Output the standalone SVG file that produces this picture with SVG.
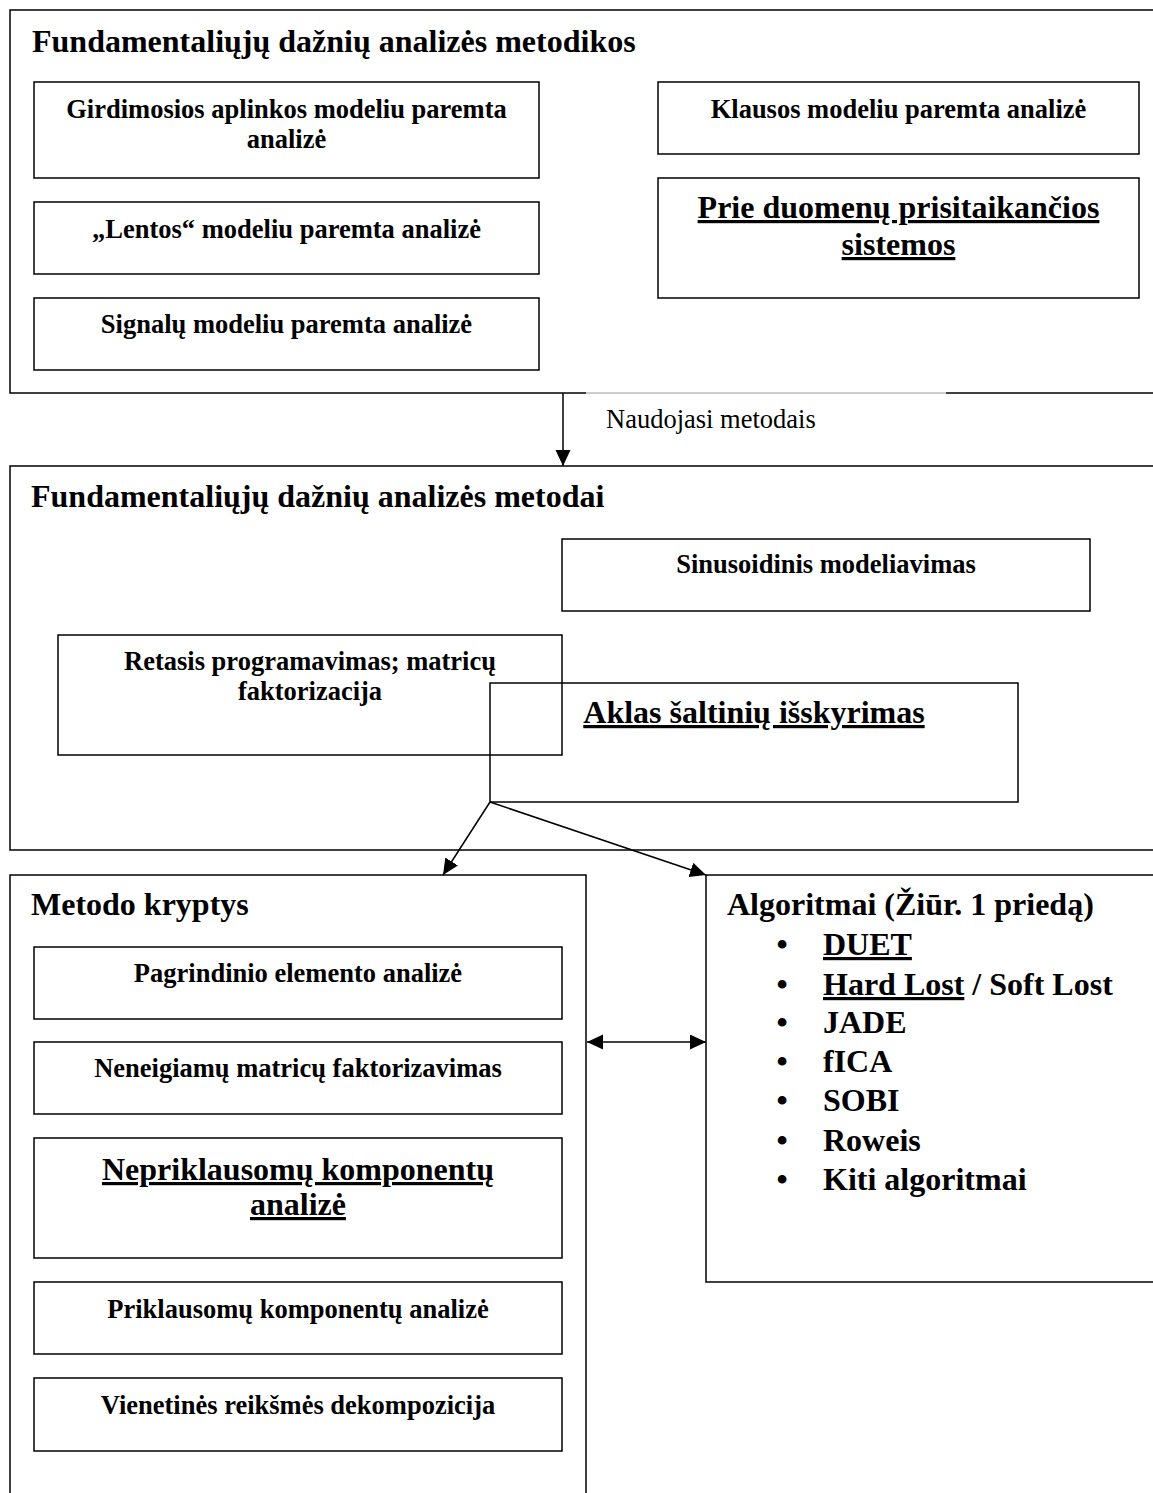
<svg xmlns="http://www.w3.org/2000/svg" width="1153" height="1493" viewBox="0 0 1153 1493">
  <style>
    .frame { fill: none; stroke: #000; stroke-width: 1.5; }
    .box { fill: none; stroke: #000; stroke-width: 1.5; }
    .title { font-family: "Liberation Serif", "Times New Roman", serif; font-weight: bold; font-size: 32px; fill: #000; }
    .item { font-family: "Liberation Serif", "Times New Roman", serif; font-weight: bold; font-size: 26.5px; fill: #000; text-anchor: middle; }
    .big { font-family: "Liberation Serif", "Times New Roman", serif; font-weight: bold; font-size: 32px; fill: #000; text-anchor: middle; }
    .u { text-decoration: underline; text-decoration-thickness: 3px; text-underline-offset: 4px; }
    .label { font-family: "Liberation Serif", "Times New Roman", serif; font-size: 26.5px; fill: #000; }
    .list { font-family: "Liberation Serif", "Times New Roman", serif; font-weight: bold; font-size: 32px; fill: #000; }
    .conn { fill: none; stroke: #000; stroke-width: 1.5; }
  </style>
  <defs>
    <marker id="head" markerUnits="userSpaceOnUse" markerWidth="17" markerHeight="16" refX="16" refY="7.5" orient="auto-start-reverse">
      <path d="M0,0 L16,7.5 L0,15 z" fill="#000"/>
    </marker>
  </defs>

  <rect width="1153" height="1493" fill="#fff"/>

  <!-- Methodologies frame -->
  <g id="metodikos">
    <rect class="frame" x="10" y="10" width="1160" height="383"/>
    <text class="title" x="32" y="52">Fundamentaliųjų dažnių analizės metodikos</text>
  </g>
  <g id="girdimosios">
    <rect class="box" x="34" y="82" width="505" height="96"/>
    <text class="item" x="286.5" y="118">Girdimosios aplinkos modeliu paremta</text>
    <text class="item" x="286.5" y="148">analizė</text>
  </g>
  <g id="lentos">
    <rect class="box" x="34" y="202" width="505" height="72"/>
    <text class="item" x="286.5" y="238">„Lentos“ modeliu paremta analizė</text>
  </g>
  <g id="signalu">
    <rect class="box" x="34" y="298" width="505" height="72"/>
    <text class="item" x="286.5" y="333">Signalų modeliu paremta analizė</text>
  </g>
  <g id="klausos">
    <rect class="box" x="658" y="82" width="481" height="72"/>
    <text class="item" x="898.5" y="118">Klausos modeliu paremta analizė</text>
  </g>
  <g id="prisitaikancios">
    <rect class="box" x="658" y="178" width="481" height="120"/>
    <text class="big u" x="898.5" y="218">Prie duomenų prisitaikančios</text>
    <text class="big u" x="898.5" y="255">sistemos</text>
  </g>

  <!-- Label box edge lying on the frame border -->
  <g id="label-naudojasi">
    <line x1="586" y1="393" x2="946" y2="393" stroke="#fff" stroke-width="2"/>
    <line x1="586" y1="393" x2="946" y2="393" stroke="#9a9a9a" stroke-width="1"/>
    <text class="label" x="606" y="428">Naudojasi metodais</text>
  </g>

  <!-- Methods frame -->
  <g id="metodai">
    <rect class="frame" x="10" y="466" width="1160" height="384"/>
    <text class="title" x="31" y="507">Fundamentaliųjų dažnių analizės metodai</text>
  </g>
  <g id="sinusoidinis">
    <rect class="box" x="562" y="539" width="528" height="72"/>
    <text class="item" x="826" y="573">Sinusoidinis modeliavimas</text>
  </g>
  <g id="retasis">
    <rect class="box" x="58" y="635" width="504" height="120"/>
    <text class="item" x="310" y="670">Retasis programavimas; matricų</text>
    <text class="item" x="310" y="700">faktorizacija</text>
  </g>
  <g id="aklas">
    <rect class="box" x="490" y="683" width="528" height="119"/>
    <text class="big u" x="754" y="723">Aklas šaltinių išskyrimas</text>
  </g>

  <!-- Directions frame -->
  <g id="kryptys">
    <rect class="frame" x="10" y="875" width="576" height="640"/>
    <text class="title" x="31" y="915">Metodo kryptys</text>
  </g>
  <g id="pagrindinio">
    <rect class="box" x="34" y="947" width="528" height="72"/>
    <text class="item" x="298" y="982">Pagrindinio elemento analizė</text>
  </g>
  <g id="neneigiamu">
    <rect class="box" x="34" y="1042" width="528" height="72"/>
    <text class="item" x="298" y="1077">Neneigiamų matricų faktorizavimas</text>
  </g>
  <g id="nepriklausomu">
    <rect class="box" x="34" y="1138" width="528" height="120"/>
    <text class="big u" x="298" y="1180">Nepriklausomų komponentų</text>
    <text class="big u" x="298" y="1215">analizė</text>
  </g>
  <g id="priklausomu">
    <rect class="box" x="34" y="1282" width="528" height="72"/>
    <text class="item" x="298" y="1318">Priklausomų komponentų analizė</text>
  </g>
  <g id="vienetines">
    <rect class="box" x="34" y="1378" width="528" height="73"/>
    <text class="item" x="298" y="1414">Vienetinės reikšmės dekompozicija</text>
  </g>

  <!-- Algorithms frame -->
  <g id="algoritmai">
    <rect class="frame" x="706" y="875" width="470" height="407"/>
    <text class="title" x="727" y="915">Algoritmai (Žiūr. 1 priedą)</text>
    <g class="list">
      <text x="782" y="955" text-anchor="middle">•</text>
      <text x="823" y="955" class="u">DUET</text>
      <text x="782" y="995" text-anchor="middle">•</text>
      <text x="823" y="995"><tspan class="u">Hard Lost</tspan> / Soft Lost</text>
      <text x="782" y="1033" text-anchor="middle">•</text>
      <text x="823" y="1033">JADE</text>
      <text x="782" y="1072" text-anchor="middle">•</text>
      <text x="823" y="1072">fICA</text>
      <text x="782" y="1111" text-anchor="middle">•</text>
      <text x="823" y="1111">SOBI</text>
      <text x="782" y="1151" text-anchor="middle">•</text>
      <text x="823" y="1151">Roweis</text>
      <text x="782" y="1190" text-anchor="middle">•</text>
      <text x="823" y="1190">Kiti algoritmai</text>
    </g>
  </g>

  <!-- Connectors -->
  <g id="connectors">
    <line class="conn" x1="563" y1="393" x2="563" y2="466" marker-end="url(#head)"/>
    <line class="conn" x1="490" y1="802" x2="443" y2="875" marker-end="url(#head)"/>
    <line class="conn" x1="490" y1="802" x2="706" y2="875" marker-end="url(#head)"/>
    <line class="conn" x1="587" y1="1042" x2="706" y2="1042" marker-start="url(#head)" marker-end="url(#head)"/>
  </g>
</svg>
